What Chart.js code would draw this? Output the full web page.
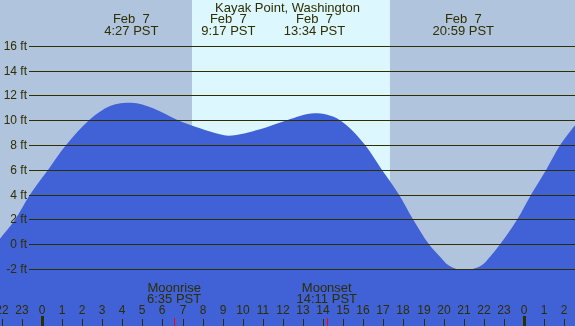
<!DOCTYPE html>
<html>
<head>
<meta charset="utf-8">
<script src="https://cdn.jsdelivr.net/npm/chart.js@4"></script>
<style>
  html, body { margin: 0; padding: 0; background: #b0c4de; }
  canvas { display: block; }
</style>
</head>
<body>
<canvas id="tideChart" width="575" height="326"></canvas>
<script>
// --- Data (hours since midnight Feb 7, feet) ---
const tideHours = [-2.09, -1.34, -0.60, 0.30, 1.20, 2.34, 3.39, 4.45, 5.53, 6.77, 7.87, 8.86, 9.28, 10.86, 12.2, 13.57, 14.84, 16.09, 16.93, 17.78, 18.48, 19.27, 19.82, 20.22, 20.98, 21.91, 22.31, 22.81, 23.66, 24.35, 25.1, 25.8, 26.54];
const tideFeet  = [0.45, 2.0, 4.0, 6.0, 8.0, 10.0, 11.15, 11.42, 10.97, 10.0, 9.35, 8.87, 8.76, 9.27, 10.0, 10.56, 10.0, 8.0, 6.0, 4.0, 2.0, 0.0, -1.0, -1.67, -2.07, -1.67, -1.0, 0.0, 2.0, 4.0, 6.0, 8.0, 9.6];

const extremeHours = [4.45, 9.28, 13.57, 20.98];
const extremeDates = ['Feb  7', 'Feb  7', 'Feb  7', 'Feb  7'];
const extremeTimes = ['4:27 PST', '9:17 PST', '13:34 PST', '20:59 PST'];

const moonHours = [6.58, 14.18];
const moonNames = ['Moonrise', 'Moonset'];
const moonTimes = ['6:35 PST', '14:11 PST'];

const sunrise = 7.47, sunset = 17.33;
const yTicks = [-2, 0, 2, 4, 6, 8, 10, 12, 14, 16];
const hourTicks = [-2, -1, 0, 1, 2, 3, 4, 5, 6, 7, 8, 9, 10, 11, 12, 13, 14, 15, 16, 17, 18, 19, 20, 21, 22, 23, 24, 25, 26];

const title = 'Kayak Point, Washington';

// --- Colors ---
const NIGHT = '#b0c4de';
const DAY = '#ddf7ff';
const WATER = '#4161d6';
const INK = '#2e2e00';
const FONT = '"Liberation Sans", Arial, sans-serif';

// --- Plugin: day/night background ---
const backdrop = {
    id: 'backdrop',
    beforeDraw(chart) {
        const { ctx, chartArea: a, scales: { x } } = chart;
        ctx.save();
        ctx.fillStyle = NIGHT;
        ctx.fillRect(a.left, a.top, a.right - a.left, a.bottom - a.top);
        const x0 = Math.round(x.getPixelForValue(sunrise));
        const x1 = Math.round(x.getPixelForValue(sunset));
        ctx.fillStyle = DAY;
        ctx.fillRect(x0, a.top, x1 - x0, a.bottom - a.top);
        ctx.restore();
    }
};

// --- Plugin: grid, labels, annotations on top of the water ---
const overlay = {
    id: 'overlay',
    afterDatasetsDraw(chart) {
        const { ctx, chartArea: a, scales: { x, y } } = chart;
        ctx.save();
        ctx.fillStyle = INK;
        ctx.strokeStyle = INK;
        ctx.lineWidth = 1;

        // horizontal lines + ft labels
        ctx.font = '12px ' + FONT;
        ctx.textAlign = 'right';
        ctx.textBaseline = 'middle';
        yTicks.forEach(v => {
            const py = Math.round(y.getPixelForValue(v)) + 0.5;
            ctx.beginPath();
            ctx.moveTo(29, py);
            ctx.lineTo(a.right, py);
            ctx.stroke();
            ctx.fillText(v + ' ft', 27, py);
        });

        // title + extremes
        ctx.textAlign = 'center';
        ctx.font = '13px ' + FONT;
        ctx.fillText(title, (a.left + a.right) / 2, 8);
        extremeHours.forEach((h, i) => {
            const px = x.getPixelForValue(h);
            ctx.fillText(extremeDates[i], px, 19);
            ctx.fillText(extremeTimes[i], px, 31);
        });

        // moon events
        moonHours.forEach((h, i) => {
            const px = x.getPixelForValue(h);
            ctx.fillText(moonNames[i], px, 288);
            ctx.fillText(moonTimes[i], px, 299);
        });

        // hour labels + ticks
        ctx.font = '12px ' + FONT;
        hourTicks.forEach(h => {
            const px = Math.round(x.getPixelForValue(h));
            const label = ((h % 24) + 24) % 24;
            ctx.fillText(String(label), px, 311);
            if (label === 0) {
                ctx.fillRect(px - 1, 316, 3, a.bottom - 316);
            } else {
                ctx.fillRect(px, 319, 1, a.bottom - 319);
            }
        });
        ctx.fillStyle = '#ff0000';
        moonHours.forEach(h => {
            const px = Math.round(x.getPixelForValue(h));
            ctx.fillRect(px, 318, 1, a.bottom - 318);
        });
        ctx.restore();
    }
};

new Chart(document.getElementById('tideChart'), {
    type: 'line',
    data: {
        datasets: [{
            data: tideHours.map((h, i) => ({ x: h, y: tideFeet[i] })),
            fill: 'start',
            backgroundColor: WATER,
            borderWidth: 0,
            pointRadius: 0,
            cubicInterpolationMode: 'monotone'
        }]
    },
    options: {
        responsive: false,
        animation: false,
        events: [],
        layout: { padding: 0 },
        plugins: { legend: { display: false }, tooltip: { enabled: false } },
        scales: {
            x: { type: 'linear', min: -2.09, max: 26.54, display: false },
            y: { min: -6.59, max: 19.70, display: false }
        }
    },
    plugins: [backdrop, overlay]
});
</script>
</body>
</html>
